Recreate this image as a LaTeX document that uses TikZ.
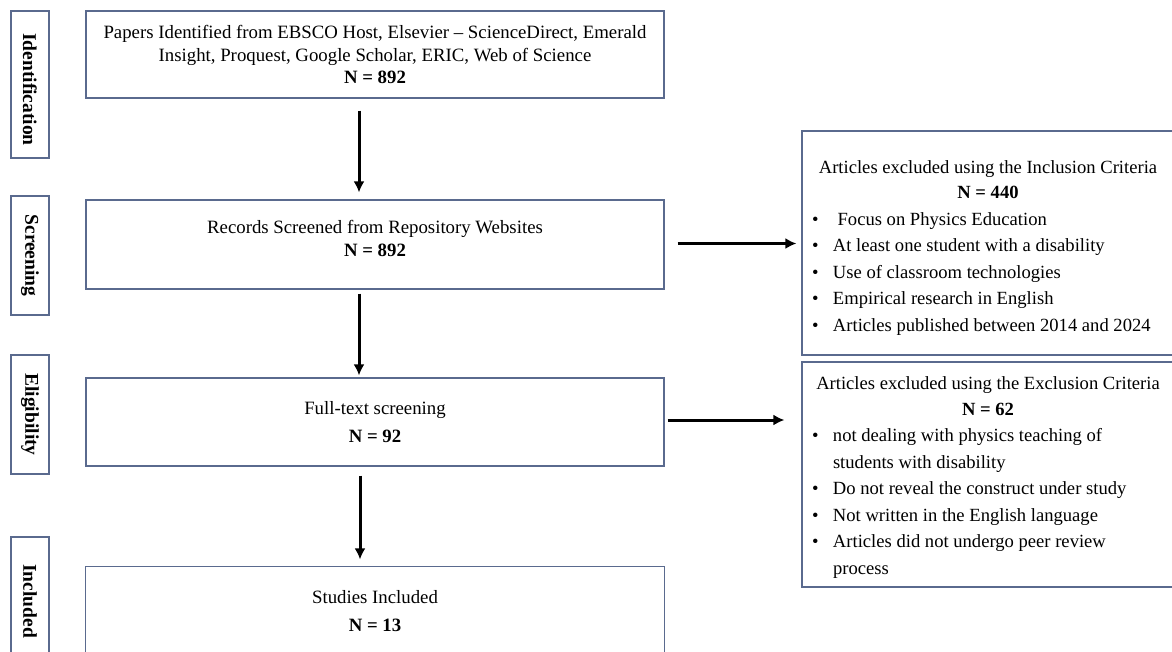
\documentclass[tikz,border=0pt]{standalone}
\usepackage{fontspec}
\setmainfont{Liberation Serif}
\usetikzlibrary{calc,arrows.meta}
\definecolor{boxblue}{RGB}{90,106,142}
\tikzset{
	mainbox/.style={draw=boxblue, line width=1.2pt, minimum width=578pt, align=center, inner sep=0pt, font=\fontsize{18.8}{22.5}\selectfont},
	stagebox/.style={draw=boxblue, line width=1.2pt, minimum height=38pt, inner sep=0pt, rotate=-90, font=\fontsize{19.5}{22}\selectfont\bfseries},
	critbox/.style={draw=boxblue, line width=1.2pt, minimum width=372pt, inner sep=0pt, font=\fontsize{18.6}{26.5}\selectfont},
	boxline/.style={draw=boxblue, line width=1.2pt},
	flow/.style={line width=3pt, -{Latex[length=11pt,width=11pt]}}
}

\begin{document}
\begin{tikzpicture}[x=1pt, y=-1pt]
			%%%%% START %%%%%
			\useasboundingbox (0,0) rectangle (1172,651);
			
			% stages on the left
			\node[stagebox, minimum width=147pt] (sid) at (30,84.5) {\hspace*{10pt}Identification};
			\node[stagebox, minimum width=119pt] (sscr) at (30,255.5) {Screening};
			\node[stagebox, minimum width=119pt] (selig) at (30,414.5) {Eligibility};
			\node[stagebox, minimum width=128pt] (sinc) at (30,601) {Included};
			
			% main column
			\node[mainbox, minimum height=87pt] (id) at (375,54.5) {Papers Identified from EBSCO Host, Elsevier -- ScienceDirect, Emerald\\ Insight, Proquest, Google Scholar, ERIC, Web of Science\\ \textbf{N = 892}};
			\node[mainbox, minimum height=89pt] (scr) at (375,244.5) {Records Screened from Repository Websites\\ \textbf{N = 892}\\[-10pt]};
			\node[mainbox, minimum height=88pt] (elig) at (375,422) {Full-text screening\\[5pt] \textbf{N = 92}};
			\node[mainbox, draw=none, minimum height=84pt] (inc) at (375,611) {Studies Included\\[5pt] \textbf{N = 13}};
			\draw[boxline] ([yshift=-20pt]inc.south west) |- ([yshift=2pt]inc.north east) -- ([yshift=-20pt]inc.south east);
			
			% excluded records
			\node[critbox, minimum height=224pt] (excin) at (988,243) {%
				\begin{tabular}{@{}p{21pt}@{}p{331pt}@{}}
					\multicolumn{2}{@{}c@{}}{Articles excluded using the Inclusion Criteria}\\[-1pt]
					\multicolumn{2}{@{}c@{}}{\textbf{N = 440}}\\
					\textbullet & \ Focus on Physics Education\\
					\textbullet & At least one student with a disability\\
					\textbullet & Use of classroom technologies\\
					\textbullet & Empirical research in English\\
					\textbullet & Articles published between 2014 and 2024\\[-8pt]
				\end{tabular}};
			\node[critbox, minimum height=225pt] (excex) at (988,474.5) {%
				\begin{tabular}{@{}p{21pt}@{}p{331pt}@{}}
					\multicolumn{2}{@{}c@{}}{Articles excluded using the Exclusion Criteria}\\[-1pt]
					\multicolumn{2}{@{}c@{}}{\textbf{N = 62}}\\
					\textbullet & not dealing with physics teaching of\\
					 & students with disability\\
					\textbullet & Do not reveal the construct under study\\
					\textbullet & Not written in the English language\\
					\textbullet & Articles did not undergo peer review\\
					 & process\\[-4pt]
				\end{tabular}};
			
			% arrows
			\draw[flow, shorten <=12pt, shorten >=7pt] ([xshift=-16pt]id.south) -- ([xshift=-16pt]scr.north);
			\draw[flow, shorten <=4pt, shorten >=2pt] ([xshift=-16pt]scr.south) -- ([xshift=-16pt]elig.north);
			\draw[flow, shorten <=9pt, shorten >=9pt] ([xshift=-15pt]elig.south) -- ([xshift=-15pt]inc.north);
			\draw[flow, shorten <=13pt, shorten >=5pt] ([yshift=1pt]scr.east) -- ([yshift=1pt]scr.east -| excin.west);
			\draw[flow, shorten <=3pt, shorten >=17pt] ([yshift=2pt]elig.east) -- ([yshift=2pt]elig.east -| excex.west);
			
			%%%%% END %%%%%
\end{tikzpicture}
\end{document}
